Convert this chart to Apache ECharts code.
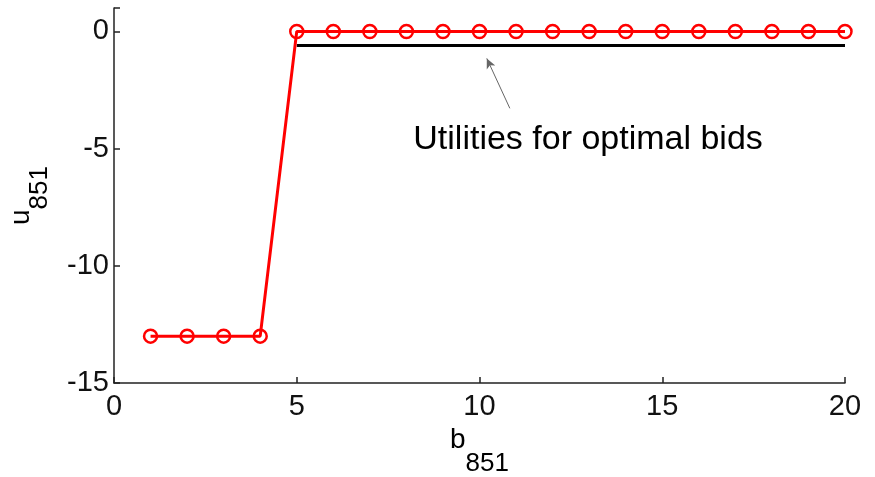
<!DOCTYPE html>
<html>
<head>
<meta charset="utf-8">
<script src="https://cdn.jsdelivr.net/npm/echarts@6/dist/echarts.min.js"></script>
<style>html,body{margin:0;padding:0;background:#fff;}#c{width:875px;height:477px;}</style>
</head>
<body>
<div id="c"></div>
<script>
const bidValues = [1,2,3,4,5,6,7,8,9,10,11,12,13,14,15,16,17,18,19,20];
const utilityValues = [-13,-13,-13,-13,0,0,0,0,0,0,0,0,0,0,0,0,0,0,0,0];
const optimalX = [5, 20];
const optimalY = [-0.6, -0.6];
const xTicks = [0,5,10,15,20];
const yTicks = [-15,-10,-5,0];
const annotationText = 'Utilities for optimal bids';
const arrowFrom = [10.83, -3.28];
const arrowTo = [10.2, -1.15];
const textAt = [12.97, -4.6];

const FONT = 'Liberation Sans, Arial, sans-serif';
const FS = 29;
const chart = echarts.init(document.getElementById('c'));
chart.setOption({
  animation: false,
  backgroundColor: '#fff',
  grid: {left: 114, right: 30, top: 8, bottom: 94, containLabel: false, outerBoundsMode: 'none'},
  xAxis: {
    type: 'value', min: 0, max: 20, interval: 5,
    name: '{b|b}{s|851}', nameLocation: 'middle', nameGap: 40,
    nameTextStyle: {rich: {
      b: {fontSize: 28, fontFamily: FONT, color: '#000', lineHeight: 48, verticalAlign: 'top'},
      s: {fontSize: 26, fontFamily: FONT, color: '#000', lineHeight: 48, verticalAlign: 'bottom', padding: [0,0,-3,0]}
    }},
    axisLine: {show: true, onZero: false, lineStyle: {color: '#222', width: 1.5}},
    axisTick: {show: true, inside: true, length: 6, lineStyle: {color: '#222', width: 1.5}},
    axisLabel: {fontSize: FS, fontFamily: FONT, color: '#111', margin: 9,
      formatter: v => xTicks.includes(v) ? String(v) : ''},
    splitLine: {show: false}
  },
  yAxis: {
    type: 'value', min: -15, max: 1, interval: 5,
    name: '{u|u}{s|851}', nameLocation: 'middle', nameGap: 63, nameRotate: 90,
    nameTextStyle: {rich: {
      u: {fontSize: 28, fontFamily: FONT, color: '#000', lineHeight: 44, verticalAlign: 'top'},
      s: {fontSize: 26, fontFamily: FONT, color: '#000', lineHeight: 44, verticalAlign: 'bottom', padding: [0,0,-2,0]}
    }},
    axisLine: {show: true, onZero: false, lineStyle: {color: '#222', width: 1.5}},
    axisTick: {show: true, inside: true, length: 6, lineStyle: {color: '#222', width: 1.5}},
    axisLabel: {fontSize: FS, fontFamily: FONT, color: '#111', margin: 5, padding: [5,0,0,0],
      formatter: v => yTicks.includes(v) ? String(v) : ''},
    splitLine: {show: false}
  },
  series: [
    {
      type: 'line',
      data: optimalX.map((x, i) => [x, optimalY[i]]),
      symbol: 'none',
      lineStyle: {color: '#000', width: 3},
      z: 2,
      markLine: {
        silent: true,
        symbol: ['none', 'arrow'],
        symbolSize: [7, 10],
        label: {show: false},
        lineStyle: {color: '#666', width: 1, type: 'solid'},
        data: [[{coord: arrowFrom}, {coord: arrowTo}]]
      },
      markPoint: {
        silent: true,
        symbol: 'circle', symbolSize: 0,
        label: {show: true, position: 'inside', formatter: annotationText,
          fontSize: 34, fontFamily: FONT, color: '#000'},
        data: [{coord: textAt}]
      }
    },
    {
      type: 'line',
      data: bidValues.map((x, i) => [x, utilityValues[i]]),
      symbol: 'circle',
      symbolSize: 13,
      showAllSymbol: true,
      lineStyle: {color: '#ff0000', width: 3},
      itemStyle: {color: 'rgba(255,255,255,0)', borderColor: '#ff0000', borderWidth: 2.5},
      z: 3
    }
  ]
});
</script>
</body>
</html>
